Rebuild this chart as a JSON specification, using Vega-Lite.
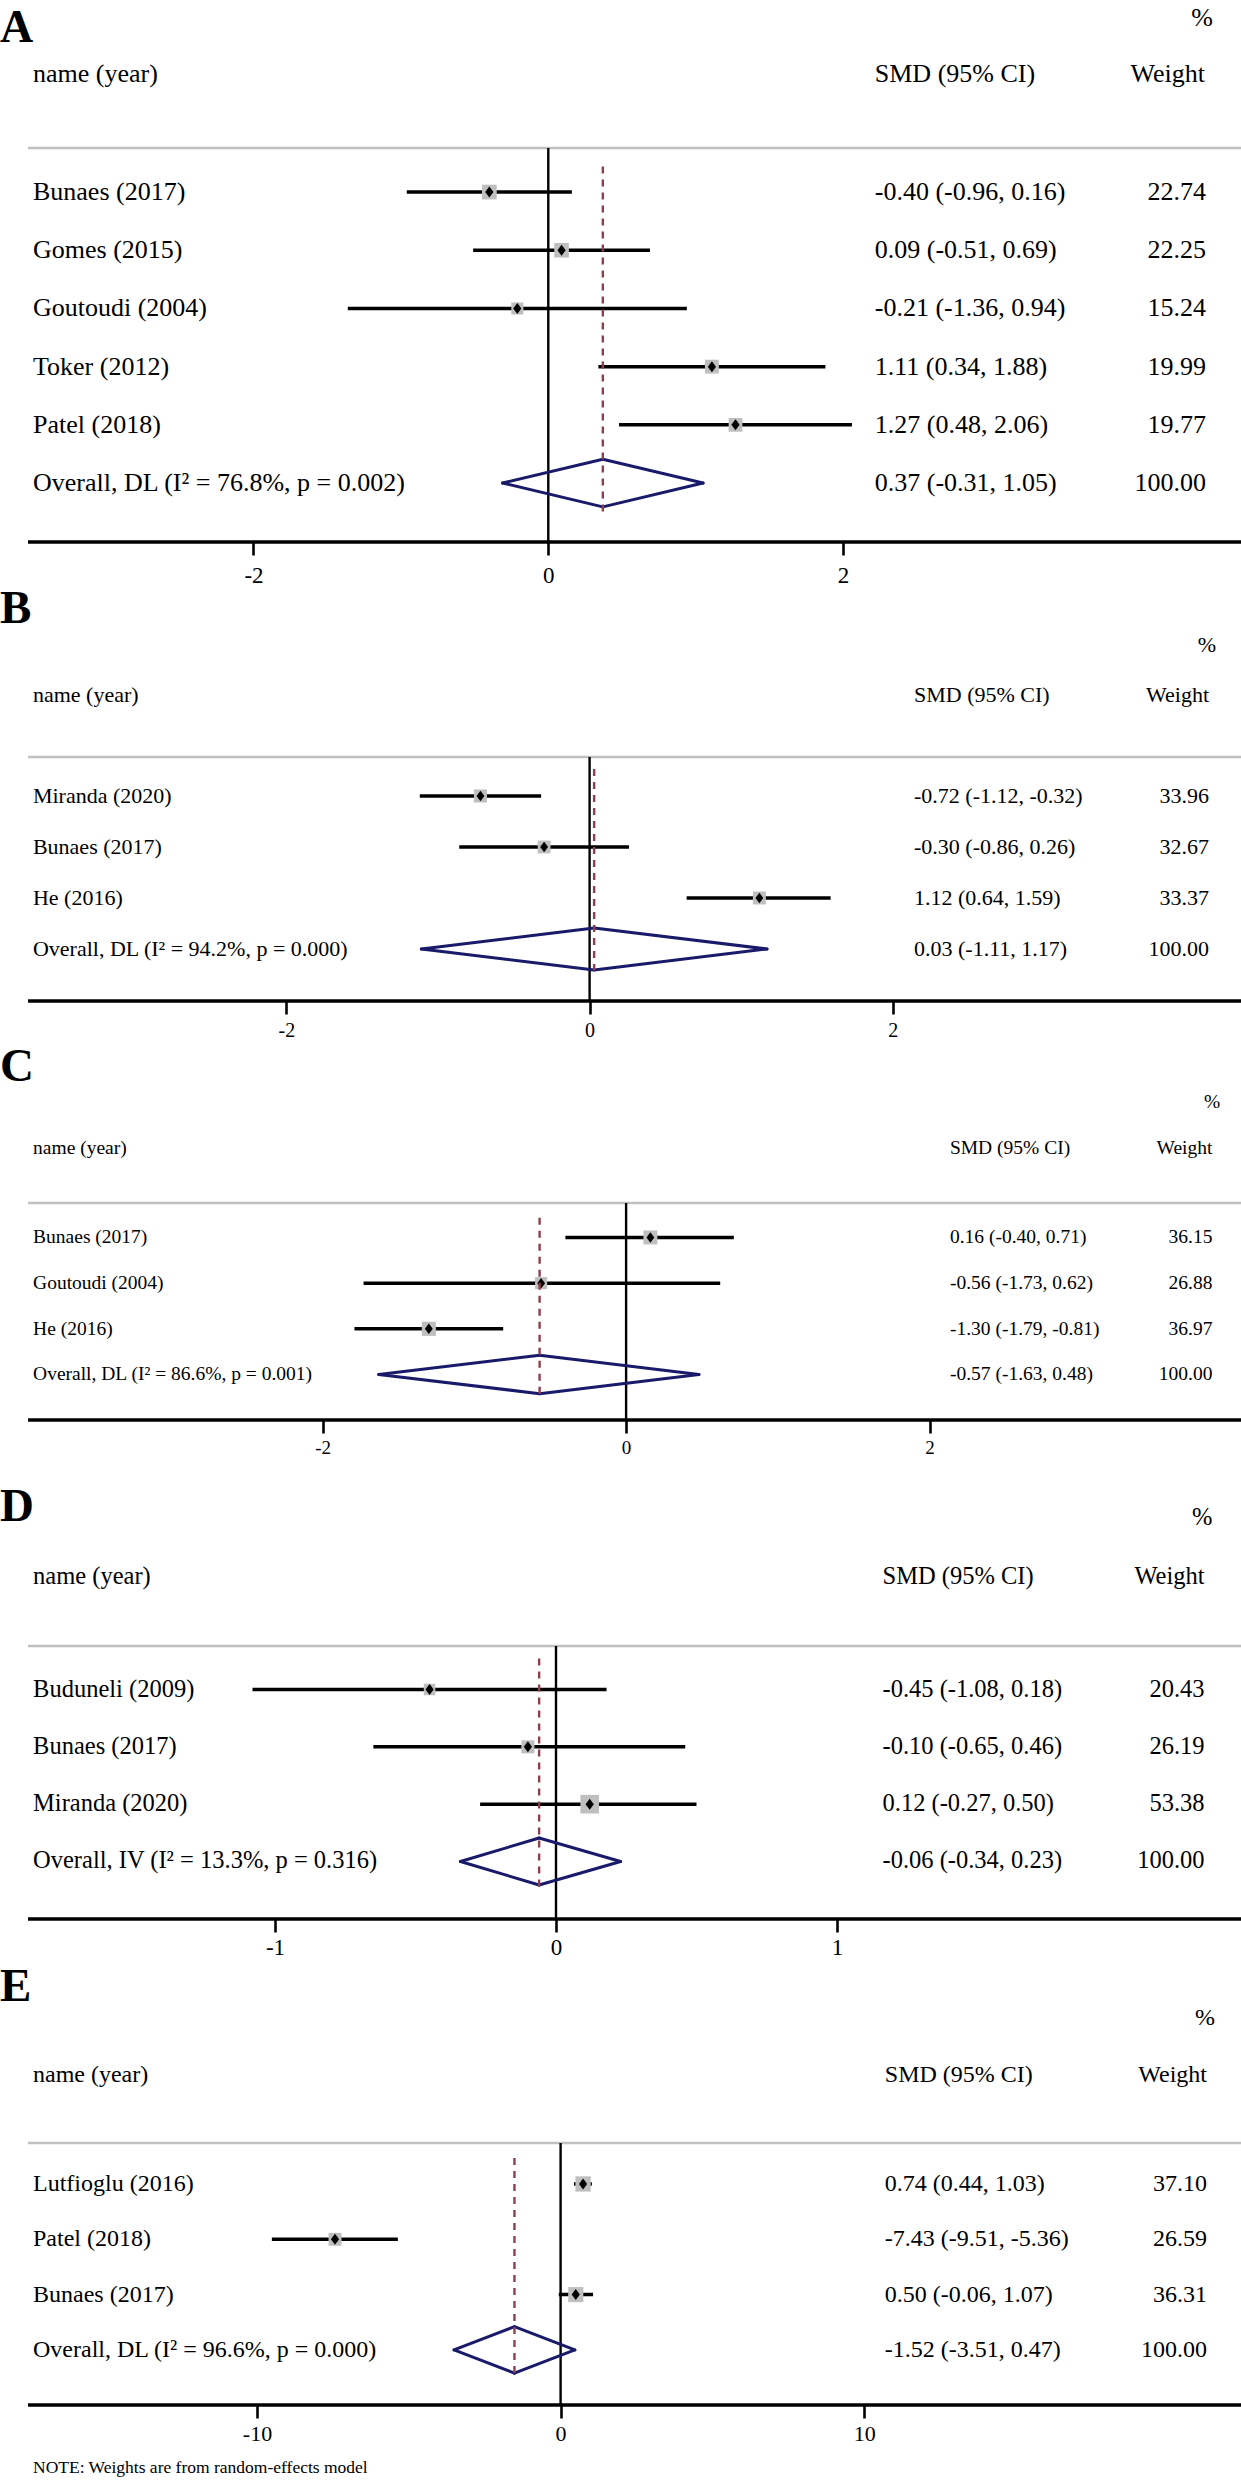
{
  "$schema": "https://vega.github.io/schema/vega-lite/v6.json",
  "padding": 0,
  "background": "white",
  "bounds": "flush",
  "spacing": 0,
  "resolve": {"scale": {"size": "independent"}},
  "config": {
    "view": {"stroke": null},
    "font": "Liberation Serif",
    "axisY": {"disable": true},
    "axis": {"domain": false, "grid": false, "ticks": true, "tickSize": 13, "tickWidth": 2.6, "tickColor": "black", "labelColor": "black", "labelFont": "Liberation Serif", "labelOverlap": false, "labelFlush": false, "labelExpr": "'' + datum.value"}
  },
  "datasets": {
    "forest": [
      {"panel": "A", "r": 1, "kind": "study", "name": "Bunaes (2017)", "smd": -0.40, "lo": -0.96, "hi": 0.16, "ci": "-0.40 (-0.96, 0.16)", "weight": 22.74},
      {"panel": "A", "r": 2, "kind": "study", "name": "Gomes (2015)", "smd": 0.09, "lo": -0.51, "hi": 0.69, "ci": "0.09 (-0.51, 0.69)", "weight": 22.25},
      {"panel": "A", "r": 3, "kind": "study", "name": "Goutoudi (2004)", "smd": -0.21, "lo": -1.36, "hi": 0.94, "ci": "-0.21 (-1.36, 0.94)", "weight": 15.24},
      {"panel": "A", "r": 4, "kind": "study", "name": "Toker (2012)", "smd": 1.11, "lo": 0.34, "hi": 1.88, "ci": "1.11 (0.34, 1.88)", "weight": 19.99},
      {"panel": "A", "r": 5, "kind": "study", "name": "Patel (2018)", "smd": 1.27, "lo": 0.48, "hi": 2.06, "ci": "1.27 (0.48, 2.06)", "weight": 19.77},
      {"panel": "A", "r": 6, "kind": "overall", "name": "Overall, DL (I² = 76.8%, p = 0.002)", "smd": 0.37, "lo": -0.31, "hi": 1.05, "ci": "0.37 (-0.31, 1.05)", "weight": 100},
      {"panel": "B", "r": 1, "kind": "study", "name": "Miranda (2020)", "smd": -0.72, "lo": -1.12, "hi": -0.32, "ci": "-0.72 (-1.12, -0.32)", "weight": 33.96},
      {"panel": "B", "r": 2, "kind": "study", "name": "Bunaes (2017)", "smd": -0.30, "lo": -0.86, "hi": 0.26, "ci": "-0.30 (-0.86, 0.26)", "weight": 32.67},
      {"panel": "B", "r": 3, "kind": "study", "name": "He (2016)", "smd": 1.12, "lo": 0.64, "hi": 1.59, "ci": "1.12 (0.64, 1.59)", "weight": 33.37},
      {"panel": "B", "r": 4, "kind": "overall", "name": "Overall, DL (I² = 94.2%, p = 0.000)", "smd": 0.03, "lo": -1.11, "hi": 1.17, "ci": "0.03 (-1.11, 1.17)", "weight": 100},
      {"panel": "C", "r": 1, "kind": "study", "name": "Bunaes (2017)", "smd": 0.16, "lo": -0.40, "hi": 0.71, "ci": "0.16 (-0.40, 0.71)", "weight": 36.15},
      {"panel": "C", "r": 2, "kind": "study", "name": "Goutoudi (2004)", "smd": -0.56, "lo": -1.73, "hi": 0.62, "ci": "-0.56 (-1.73, 0.62)", "weight": 26.88},
      {"panel": "C", "r": 3, "kind": "study", "name": "He (2016)", "smd": -1.30, "lo": -1.79, "hi": -0.81, "ci": "-1.30 (-1.79, -0.81)", "weight": 36.97},
      {"panel": "C", "r": 4, "kind": "overall", "name": "Overall, DL (I² = 86.6%, p = 0.001)", "smd": -0.57, "lo": -1.63, "hi": 0.48, "ci": "-0.57 (-1.63, 0.48)", "weight": 100},
      {"panel": "D", "r": 1, "kind": "study", "name": "Buduneli (2009)", "smd": -0.45, "lo": -1.08, "hi": 0.18, "ci": "-0.45 (-1.08, 0.18)", "weight": 20.43},
      {"panel": "D", "r": 2, "kind": "study", "name": "Bunaes (2017)", "smd": -0.10, "lo": -0.65, "hi": 0.46, "ci": "-0.10 (-0.65, 0.46)", "weight": 26.19},
      {"panel": "D", "r": 3, "kind": "study", "name": "Miranda (2020)", "smd": 0.12, "lo": -0.27, "hi": 0.50, "ci": "0.12 (-0.27, 0.50)", "weight": 53.38},
      {"panel": "D", "r": 4, "kind": "overall", "name": "Overall, IV (I² = 13.3%, p = 0.316)", "smd": -0.06, "lo": -0.34, "hi": 0.23, "ci": "-0.06 (-0.34, 0.23)", "weight": 100},
      {"panel": "E", "r": 1, "kind": "study", "name": "Lutfioglu (2016)", "smd": 0.74, "lo": 0.44, "hi": 1.03, "ci": "0.74 (0.44, 1.03)", "weight": 37.10},
      {"panel": "E", "r": 2, "kind": "study", "name": "Patel (2018)", "smd": -7.43, "lo": -9.51, "hi": -5.36, "ci": "-7.43 (-9.51, -5.36)", "weight": 26.59},
      {"panel": "E", "r": 3, "kind": "study", "name": "Bunaes (2017)", "smd": 0.50, "lo": -0.06, "hi": 1.07, "ci": "0.50 (-0.06, 1.07)", "weight": 36.31},
      {"panel": "E", "r": 4, "kind": "overall", "name": "Overall, DL (I² = 96.6%, p = 0.000)", "smd": -1.52, "lo": -3.51, "hi": 0.47, "ci": "-1.52 (-3.51, 0.47)", "weight": 100}
    ]
  },
  "vconcat": [
    {
      "width": 1241, "height": 542,
      "data": {"name": "forest"},
      "layer": [
        {"transform": [{"filter": "datum.panel === 'A' && datum.kind === 'study'"}],
         "mark": {"type": "rule", "color": "black", "strokeWidth": 3.5},
         "encoding": {
           "x": {"field": "lo", "type": "quantitative", "scale": {"domain": [-3.7198, 4.6995], "nice": false, "zero": false}, "axis": {"title": null, "values": [-2, 0, 2], "labelFontSize": 23, "labelPadding": 9}},
           "x2": {"field": "hi"},
           "y": {"field": "r", "type": "quantitative", "scale": {"domain": [-2.3, 7.013], "reverse": true, "nice": false, "zero": false}}}},
        {"data": {"values": [{}]}, "mark": {"type": "rule", "color": "#c0c0c0", "strokeWidth": 2.5},
         "encoding": {"x": {"datum": -3.53}, "x2": {"datum": 4.6995}, "y": {"datum": 0.244}}},
        {"data": {"values": [{}]}, "mark": {"type": "rule", "color": "black", "strokeWidth": 3.3},
         "encoding": {"x": {"datum": -3.53}, "x2": {"datum": 4.6995}, "y": {"datum": 7.013}}},
        {"data": {"values": [{}]}, "mark": {"type": "rule", "color": "black", "strokeWidth": 2.4},
         "encoding": {"x": {"datum": 0}, "y": {"datum": 0.244}, "y2": {"datum": 7.013}}},
        {"transform": [{"filter": "datum.panel === 'A' && datum.kind === 'study'"}],
         "mark": {"type": "point", "shape": "square", "filled": true, "color": "#bfbfbf", "opacity": 1},
         "encoding": {"x": {"field": "smd", "type": "quantitative"}, "y": {"field": "r", "type": "quantitative"},
           "size": {"field": "weight", "type": "quantitative", "scale": {"type": "linear", "domain": [0, 100], "range": [0, 960]}, "legend": null}}},
        {"transform": [{"filter": "datum.panel === 'A' && datum.kind === 'study'"}],
         "mark": {"type": "point", "shape": "M0,-1L0.75,0L0,1L-0.75,0Z", "filled": true, "color": "black", "opacity": 1, "size": 121},
         "encoding": {"x": {"field": "smd", "type": "quantitative"}, "y": {"field": "r", "type": "quantitative"}}},
        {"transform": [{"filter": "datum.panel === 'A' && datum.kind === 'overall'"}],
         "mark": {"type": "rule", "color": "#1a1a6b", "strokeWidth": 3, "strokeCap": "round"},
         "encoding": {"x": {"field": "lo", "type": "quantitative"}, "x2": {"field": "smd"}, "y": {"field": "r", "type": "quantitative"}, "y2": {"datum": 5.59}}},
        {"transform": [{"filter": "datum.panel === 'A' && datum.kind === 'overall'"}],
         "mark": {"type": "rule", "color": "#1a1a6b", "strokeWidth": 3, "strokeCap": "round"},
         "encoding": {"x": {"field": "hi", "type": "quantitative"}, "x2": {"field": "smd"}, "y": {"field": "r", "type": "quantitative"}, "y2": {"datum": 5.59}}},
        {"transform": [{"filter": "datum.panel === 'A' && datum.kind === 'overall'"}],
         "mark": {"type": "rule", "color": "#1a1a6b", "strokeWidth": 3, "strokeCap": "round"},
         "encoding": {"x": {"field": "lo", "type": "quantitative"}, "x2": {"field": "smd"}, "y": {"field": "r", "type": "quantitative"}, "y2": {"datum": 6.41}}},
        {"transform": [{"filter": "datum.panel === 'A' && datum.kind === 'overall'"}],
         "mark": {"type": "rule", "color": "#1a1a6b", "strokeWidth": 3, "strokeCap": "round"},
         "encoding": {"x": {"field": "hi", "type": "quantitative"}, "x2": {"field": "smd"}, "y": {"field": "r", "type": "quantitative"}, "y2": {"datum": 6.41}}},
        {"transform": [{"filter": "datum.panel === 'A' && datum.kind === 'overall'"}],
         "mark": {"type": "rule", "color": "#8e3f4e", "strokeWidth": 2.4, "strokeDash": [7, 6]},
         "encoding": {"x": {"field": "smd", "type": "quantitative"}, "y": {"datum": 0.56}, "y2": {"datum": 6.5}}},
        {"transform": [{"filter": "datum.panel === 'A'"}],
         "mark": {"type": "text", "align": "left", "baseline": "middle", "fontSize": 26, "color": "black"},
         "encoding": {"x": {"datum": -3.496}, "y": {"field": "r", "type": "quantitative"}, "text": {"field": "name"}}},
        {"transform": [{"filter": "datum.panel === 'A'"}],
         "mark": {"type": "text", "align": "left", "baseline": "middle", "fontSize": 26, "color": "black"},
         "encoding": {"x": {"datum": 2.215}, "y": {"field": "r", "type": "quantitative"}, "text": {"field": "ci"}}},
        {"transform": [{"filter": "datum.panel === 'A'"}],
         "mark": {"type": "text", "align": "right", "baseline": "middle", "fontSize": 26, "color": "black"},
         "encoding": {"x": {"datum": 4.462}, "y": {"field": "r", "type": "quantitative"}, "text": {"field": "weight", "type": "quantitative", "format": ".2f"}}},
        {"data": {"values": [{}]}, "mark": {"type": "text", "text": "name (year)", "align": "left", "baseline": "middle", "fontSize": 26, "color": "black"},
         "encoding": {"x": {"datum": -3.496}, "y": {"datum": -1.03}}},
        {"data": {"values": [{}]}, "mark": {"type": "text", "text": "SMD (95% CI)", "align": "left", "baseline": "middle", "fontSize": 26, "color": "black"},
         "encoding": {"x": {"datum": 2.215}, "y": {"datum": -1.03}}},
        {"data": {"values": [{}]}, "mark": {"type": "text", "text": "Weight", "align": "right", "baseline": "middle", "fontSize": 26, "color": "black"},
         "encoding": {"x": {"datum": 4.455}, "y": {"datum": -1.03}}},
        {"data": {"values": [{}]}, "mark": {"type": "text", "text": "%", "align": "right", "baseline": "middle", "fontSize": 26, "color": "black"},
         "encoding": {"x": {"datum": 4.509}, "y": {"datum": -1.99}}},
        {"data": {"values": [{}]}, "mark": {"type": "text", "text": "A", "align": "left", "baseline": "alphabetic", "fontSize": 46, "fontWeight": "bold", "color": "black"},
         "encoding": {"x": {"datum": -3.7198}, "y": {"datum": -1.586}}}
      ]
    },
    {
      "width": 1241, "height": 459,
      "data": {"name": "forest"},
      "layer": [
        {"transform": [{"filter": "datum.panel === 'B' && datum.kind === 'study'"}],
         "mark": {"type": "rule", "color": "black", "strokeWidth": 3.5},
         "encoding": {
           "x": {"field": "lo", "type": "quantitative", "scale": {"domain": [-3.8892, 4.2968], "nice": false, "zero": false}, "axis": {"title": null, "values": [-2, 0, 2], "labelFontSize": 20, "labelPadding": 6}},
           "x2": {"field": "hi"},
           "y": {"field": "r", "type": "quantitative", "scale": {"domain": [-3.98, 5.02], "reverse": true, "nice": false, "zero": false}}}},
        {"data": {"values": [{}]}, "mark": {"type": "rule", "color": "#c0c0c0", "strokeWidth": 2.5},
         "encoding": {"x": {"datum": -3.704}, "x2": {"datum": 4.2968}, "y": {"datum": 0.235}}},
        {"data": {"values": [{}]}, "mark": {"type": "rule", "color": "black", "strokeWidth": 3.3},
         "encoding": {"x": {"datum": -3.704}, "x2": {"datum": 4.2968}, "y": {"datum": 5.02}}},
        {"data": {"values": [{}]}, "mark": {"type": "rule", "color": "black", "strokeWidth": 2.4},
         "encoding": {"x": {"datum": 0}, "y": {"datum": 0.235}, "y2": {"datum": 5.02}}},
        {"transform": [{"filter": "datum.panel === 'B' && datum.kind === 'study'"}],
         "mark": {"type": "point", "shape": "square", "filled": true, "color": "#bfbfbf", "opacity": 1},
         "encoding": {"x": {"field": "smd", "type": "quantitative"}, "y": {"field": "r", "type": "quantitative"},
           "size": {"field": "weight", "type": "quantitative", "scale": {"type": "linear", "domain": [0, 100], "range": [0, 500]}, "legend": null}}},
        {"transform": [{"filter": "datum.panel === 'B' && datum.kind === 'study'"}],
         "mark": {"type": "point", "shape": "M0,-1L0.75,0L0,1L-0.75,0Z", "filled": true, "color": "black", "opacity": 1, "size": 110},
         "encoding": {"x": {"field": "smd", "type": "quantitative"}, "y": {"field": "r", "type": "quantitative"}}},
        {"transform": [{"filter": "datum.panel === 'B' && datum.kind === 'overall'"}],
         "mark": {"type": "rule", "color": "#1a1a6b", "strokeWidth": 3, "strokeCap": "round"},
         "encoding": {"x": {"field": "lo", "type": "quantitative"}, "x2": {"field": "smd"}, "y": {"field": "r", "type": "quantitative"}, "y2": {"datum": 3.59}}},
        {"transform": [{"filter": "datum.panel === 'B' && datum.kind === 'overall'"}],
         "mark": {"type": "rule", "color": "#1a1a6b", "strokeWidth": 3, "strokeCap": "round"},
         "encoding": {"x": {"field": "hi", "type": "quantitative"}, "x2": {"field": "smd"}, "y": {"field": "r", "type": "quantitative"}, "y2": {"datum": 3.59}}},
        {"transform": [{"filter": "datum.panel === 'B' && datum.kind === 'overall'"}],
         "mark": {"type": "rule", "color": "#1a1a6b", "strokeWidth": 3, "strokeCap": "round"},
         "encoding": {"x": {"field": "lo", "type": "quantitative"}, "x2": {"field": "smd"}, "y": {"field": "r", "type": "quantitative"}, "y2": {"datum": 4.41}}},
        {"transform": [{"filter": "datum.panel === 'B' && datum.kind === 'overall'"}],
         "mark": {"type": "rule", "color": "#1a1a6b", "strokeWidth": 3, "strokeCap": "round"},
         "encoding": {"x": {"field": "hi", "type": "quantitative"}, "x2": {"field": "smd"}, "y": {"field": "r", "type": "quantitative"}, "y2": {"datum": 4.41}}},
        {"transform": [{"filter": "datum.panel === 'B' && datum.kind === 'overall'"}],
         "mark": {"type": "rule", "color": "#8e3f4e", "strokeWidth": 2.4, "strokeDash": [7, 6]},
         "encoding": {"x": {"field": "smd", "type": "quantitative"}, "y": {"datum": 0.47}, "y2": {"datum": 4.42}}},
        {"transform": [{"filter": "datum.panel === 'B'"}],
         "mark": {"type": "text", "align": "left", "baseline": "middle", "fontSize": 22, "color": "black"},
         "encoding": {"x": {"datum": -3.672}, "y": {"field": "r", "type": "quantitative"}, "text": {"field": "name"}}},
        {"transform": [{"filter": "datum.panel === 'B'"}],
         "mark": {"type": "text", "align": "left", "baseline": "middle", "fontSize": 22, "color": "black"},
         "encoding": {"x": {"datum": 2.140}, "y": {"field": "r", "type": "quantitative"}, "text": {"field": "ci"}}},
        {"transform": [{"filter": "datum.panel === 'B'"}],
         "mark": {"type": "text", "align": "right", "baseline": "middle", "fontSize": 22, "color": "black"},
         "encoding": {"x": {"datum": 4.086}, "y": {"field": "r", "type": "quantitative"}, "text": {"field": "weight", "type": "quantitative", "format": ".2f"}}},
        {"data": {"values": [{}]}, "mark": {"type": "text", "text": "name (year)", "align": "left", "baseline": "middle", "fontSize": 22, "color": "black"},
         "encoding": {"x": {"datum": -3.672}, "y": {"datum": -0.98}}},
        {"data": {"values": [{}]}, "mark": {"type": "text", "text": "SMD (95% CI)", "align": "left", "baseline": "middle", "fontSize": 22, "color": "black"},
         "encoding": {"x": {"datum": 2.140}, "y": {"datum": -0.98}}},
        {"data": {"values": [{}]}, "mark": {"type": "text", "text": "Weight", "align": "right", "baseline": "middle", "fontSize": 22, "color": "black"},
         "encoding": {"x": {"datum": 4.086}, "y": {"datum": -0.98}}},
        {"data": {"values": [{}]}, "mark": {"type": "text", "text": "%", "align": "right", "baseline": "middle", "fontSize": 22, "color": "black"},
         "encoding": {"x": {"datum": 4.132}, "y": {"datum": -1.96}}},
        {"data": {"values": [{}]}, "mark": {"type": "text", "text": "B", "align": "left", "baseline": "alphabetic", "fontSize": 47, "fontWeight": "bold", "color": "black"},
         "encoding": {"x": {"datum": -3.8892}, "y": {"datum": -2.392}}}
      ]
    },
    {
      "width": 1241, "height": 419,
      "data": {"name": "forest"},
      "layer": [
        {"transform": [{"filter": "datum.panel === 'C' && datum.kind === 'study'"}],
         "mark": {"type": "rule", "color": "black", "strokeWidth": 3.5},
         "encoding": {
           "x": {"field": "lo", "type": "quantitative", "scale": {"domain": [-4.1259, 4.0521], "nice": false, "zero": false}, "axis": {"title": null, "values": [-2, 0, 2], "labelFontSize": 19, "labelPadding": 5}},
           "x2": {"field": "hi"},
           "y": {"field": "r", "type": "quantitative", "scale": {"domain": [-4.178, 4.997], "reverse": true, "nice": false, "zero": false}}}},
        {"data": {"values": [{}]}, "mark": {"type": "rule", "color": "#c0c0c0", "strokeWidth": 2.5},
         "encoding": {"x": {"datum": -3.941}, "x2": {"datum": 4.0521}, "y": {"datum": 0.245}}},
        {"data": {"values": [{}]}, "mark": {"type": "rule", "color": "black", "strokeWidth": 3.3},
         "encoding": {"x": {"datum": -3.941}, "x2": {"datum": 4.0521}, "y": {"datum": 4.997}}},
        {"data": {"values": [{}]}, "mark": {"type": "rule", "color": "black", "strokeWidth": 2.4},
         "encoding": {"x": {"datum": 0}, "y": {"datum": 0.245}, "y2": {"datum": 4.997}}},
        {"transform": [{"filter": "datum.panel === 'C' && datum.kind === 'study'"}],
         "mark": {"type": "point", "shape": "square", "filled": true, "color": "#bfbfbf", "opacity": 1},
         "encoding": {"x": {"field": "smd", "type": "quantitative"}, "y": {"field": "r", "type": "quantitative"},
           "size": {"field": "weight", "type": "quantitative", "scale": {"type": "linear", "domain": [0, 100], "range": [0, 540]}, "legend": null}}},
        {"transform": [{"filter": "datum.panel === 'C' && datum.kind === 'study'"}],
         "mark": {"type": "point", "shape": "M0,-1L0.75,0L0,1L-0.75,0Z", "filled": true, "color": "black", "opacity": 1, "size": 110},
         "encoding": {"x": {"field": "smd", "type": "quantitative"}, "y": {"field": "r", "type": "quantitative"}}},
        {"transform": [{"filter": "datum.panel === 'C' && datum.kind === 'overall'"}],
         "mark": {"type": "rule", "color": "#1a1a6b", "strokeWidth": 3, "strokeCap": "round"},
         "encoding": {"x": {"field": "lo", "type": "quantitative"}, "x2": {"field": "smd"}, "y": {"field": "r", "type": "quantitative"}, "y2": {"datum": 3.58}}},
        {"transform": [{"filter": "datum.panel === 'C' && datum.kind === 'overall'"}],
         "mark": {"type": "rule", "color": "#1a1a6b", "strokeWidth": 3, "strokeCap": "round"},
         "encoding": {"x": {"field": "hi", "type": "quantitative"}, "x2": {"field": "smd"}, "y": {"field": "r", "type": "quantitative"}, "y2": {"datum": 3.58}}},
        {"transform": [{"filter": "datum.panel === 'C' && datum.kind === 'overall'"}],
         "mark": {"type": "rule", "color": "#1a1a6b", "strokeWidth": 3, "strokeCap": "round"},
         "encoding": {"x": {"field": "lo", "type": "quantitative"}, "x2": {"field": "smd"}, "y": {"field": "r", "type": "quantitative"}, "y2": {"datum": 4.42}}},
        {"transform": [{"filter": "datum.panel === 'C' && datum.kind === 'overall'"}],
         "mark": {"type": "rule", "color": "#1a1a6b", "strokeWidth": 3, "strokeCap": "round"},
         "encoding": {"x": {"field": "hi", "type": "quantitative"}, "x2": {"field": "smd"}, "y": {"field": "r", "type": "quantitative"}, "y2": {"datum": 4.42}}},
        {"transform": [{"filter": "datum.panel === 'C' && datum.kind === 'overall'"}],
         "mark": {"type": "rule", "color": "#8e3f4e", "strokeWidth": 2.4, "strokeDash": [7, 6]},
         "encoding": {"x": {"field": "smd", "type": "quantitative"}, "y": {"datum": 0.57}, "y2": {"datum": 4.48}}},
        {"transform": [{"filter": "datum.panel === 'C'"}],
         "mark": {"type": "text", "align": "left", "baseline": "middle", "fontSize": 19.5, "color": "black"},
         "encoding": {"x": {"datum": -3.908}, "y": {"field": "r", "type": "quantitative"}, "text": {"field": "name"}}},
        {"transform": [{"filter": "datum.panel === 'C'"}],
         "mark": {"type": "text", "align": "left", "baseline": "middle", "fontSize": 19.5, "color": "black"},
         "encoding": {"x": {"datum": 2.134}, "y": {"field": "r", "type": "quantitative"}, "text": {"field": "ci"}}},
        {"transform": [{"filter": "datum.panel === 'C'"}],
         "mark": {"type": "text", "align": "right", "baseline": "middle", "fontSize": 19.5, "color": "black"},
         "encoding": {"x": {"datum": 3.864}, "y": {"field": "r", "type": "quantitative"}, "text": {"field": "weight", "type": "quantitative", "format": ".2f"}}},
        {"data": {"values": [{}]}, "mark": {"type": "text", "text": "name (year)", "align": "left", "baseline": "middle", "fontSize": 19.5, "color": "black"},
         "encoding": {"x": {"datum": -3.908}, "y": {"datum": -0.96}}},
        {"data": {"values": [{}]}, "mark": {"type": "text", "text": "SMD (95% CI)", "align": "left", "baseline": "middle", "fontSize": 19.5, "color": "black"},
         "encoding": {"x": {"datum": 2.134}, "y": {"datum": -0.96}}},
        {"data": {"values": [{}]}, "mark": {"type": "text", "text": "Weight", "align": "right", "baseline": "middle", "fontSize": 19.5, "color": "black"},
         "encoding": {"x": {"datum": 3.864}, "y": {"datum": -0.96}}},
        {"data": {"values": [{}]}, "mark": {"type": "text", "text": "%", "align": "right", "baseline": "middle", "fontSize": 19.5, "color": "black"},
         "encoding": {"x": {"datum": 3.916}, "y": {"datum": -1.97}}},
        {"data": {"values": [{}]}, "mark": {"type": "text", "text": "C", "align": "left", "baseline": "alphabetic", "fontSize": 47, "fontWeight": "bold", "color": "black"},
         "encoding": {"x": {"datum": -4.1259}, "y": {"datum": -2.427}}}
      ]
    },
    {
      "width": 1241, "height": 499,
      "data": {"name": "forest"},
      "layer": [
        {"transform": [{"filter": "datum.panel === 'D' && datum.kind === 'study'"}],
         "mark": {"type": "rule", "color": "black", "strokeWidth": 3.5},
         "encoding": {
           "x": {"field": "lo", "type": "quantitative", "scale": {"domain": [-1.9786, 2.4377], "nice": false, "zero": false}, "axis": {"title": null, "values": [-1, 0, 1], "labelFontSize": 23, "labelPadding": 4}},
           "x2": {"field": "hi"},
           "y": {"field": "r", "type": "quantitative", "scale": {"domain": [-3.701, 5.003], "reverse": true, "nice": false, "zero": false}}}},
        {"data": {"values": [{}]}, "mark": {"type": "rule", "color": "#c0c0c0", "strokeWidth": 2.5},
         "encoding": {"x": {"datum": -1.879}, "x2": {"datum": 2.4377}, "y": {"datum": 0.24}}},
        {"data": {"values": [{}]}, "mark": {"type": "rule", "color": "black", "strokeWidth": 3.3},
         "encoding": {"x": {"datum": -1.879}, "x2": {"datum": 2.4377}, "y": {"datum": 5.003}}},
        {"data": {"values": [{}]}, "mark": {"type": "rule", "color": "black", "strokeWidth": 2.4},
         "encoding": {"x": {"datum": 0}, "y": {"datum": 0.24}, "y2": {"datum": 5.003}}},
        {"transform": [{"filter": "datum.panel === 'D' && datum.kind === 'study'"}],
         "mark": {"type": "point", "shape": "square", "filled": true, "color": "#bfbfbf", "opacity": 1},
         "encoding": {"x": {"field": "smd", "type": "quantitative"}, "y": {"field": "r", "type": "quantitative"},
           "size": {"field": "weight", "type": "quantitative", "scale": {"type": "linear", "domain": [0, 100], "range": [0, 650]}, "legend": null}}},
        {"transform": [{"filter": "datum.panel === 'D' && datum.kind === 'study'"}],
         "mark": {"type": "point", "shape": "M0,-1L0.75,0L0,1L-0.75,0Z", "filled": true, "color": "black", "opacity": 1, "size": 121},
         "encoding": {"x": {"field": "smd", "type": "quantitative"}, "y": {"field": "r", "type": "quantitative"}}},
        {"transform": [{"filter": "datum.panel === 'D' && datum.kind === 'overall'"}],
         "mark": {"type": "rule", "color": "#1a1a6b", "strokeWidth": 3, "strokeCap": "round"},
         "encoding": {"x": {"field": "lo", "type": "quantitative"}, "x2": {"field": "smd"}, "y": {"field": "r", "type": "quantitative"}, "y2": {"datum": 3.59}}},
        {"transform": [{"filter": "datum.panel === 'D' && datum.kind === 'overall'"}],
         "mark": {"type": "rule", "color": "#1a1a6b", "strokeWidth": 3, "strokeCap": "round"},
         "encoding": {"x": {"field": "hi", "type": "quantitative"}, "x2": {"field": "smd"}, "y": {"field": "r", "type": "quantitative"}, "y2": {"datum": 3.59}}},
        {"transform": [{"filter": "datum.panel === 'D' && datum.kind === 'overall'"}],
         "mark": {"type": "rule", "color": "#1a1a6b", "strokeWidth": 3, "strokeCap": "round"},
         "encoding": {"x": {"field": "lo", "type": "quantitative"}, "x2": {"field": "smd"}, "y": {"field": "r", "type": "quantitative"}, "y2": {"datum": 4.41}}},
        {"transform": [{"filter": "datum.panel === 'D' && datum.kind === 'overall'"}],
         "mark": {"type": "rule", "color": "#1a1a6b", "strokeWidth": 3, "strokeCap": "round"},
         "encoding": {"x": {"field": "hi", "type": "quantitative"}, "x2": {"field": "smd"}, "y": {"field": "r", "type": "quantitative"}, "y2": {"datum": 4.41}}},
        {"transform": [{"filter": "datum.panel === 'D' && datum.kind === 'overall'"}],
         "mark": {"type": "rule", "color": "#8e3f4e", "strokeWidth": 2.4, "strokeDash": [7, 6]},
         "encoding": {"x": {"field": "smd", "type": "quantitative"}, "y": {"datum": 0.46}, "y2": {"datum": 4.5}}},
        {"transform": [{"filter": "datum.panel === 'D'"}],
         "mark": {"type": "text", "align": "left", "baseline": "middle", "fontSize": 24.5, "color": "black"},
         "encoding": {"x": {"datum": -1.861}, "y": {"field": "r", "type": "quantitative"}, "text": {"field": "name"}}},
        {"transform": [{"filter": "datum.panel === 'D'"}],
         "mark": {"type": "text", "align": "left", "baseline": "middle", "fontSize": 24.5, "color": "black"},
         "encoding": {"x": {"datum": 1.162}, "y": {"field": "r", "type": "quantitative"}, "text": {"field": "ci"}}},
        {"transform": [{"filter": "datum.panel === 'D'"}],
         "mark": {"type": "text", "align": "right", "baseline": "middle", "fontSize": 24.5, "color": "black"},
         "encoding": {"x": {"datum": 2.308}, "y": {"field": "r", "type": "quantitative"}, "text": {"field": "weight", "type": "quantitative", "format": ".2f"}}},
        {"data": {"values": [{}]}, "mark": {"type": "text", "text": "name (year)", "align": "left", "baseline": "middle", "fontSize": 24.5, "color": "black"},
         "encoding": {"x": {"datum": -1.861}, "y": {"datum": -0.96}}},
        {"data": {"values": [{}]}, "mark": {"type": "text", "text": "SMD (95% CI)", "align": "left", "baseline": "middle", "fontSize": 24.5, "color": "black"},
         "encoding": {"x": {"datum": 1.162}, "y": {"datum": -0.96}}},
        {"data": {"values": [{}]}, "mark": {"type": "text", "text": "Weight", "align": "right", "baseline": "middle", "fontSize": 24.5, "color": "black"},
         "encoding": {"x": {"datum": 2.308}, "y": {"datum": -0.96}}},
        {"data": {"values": [{}]}, "mark": {"type": "text", "text": "%", "align": "right", "baseline": "middle", "fontSize": 24.5, "color": "black"},
         "encoding": {"x": {"datum": 2.336}, "y": {"datum": -1.99}}},
        {"data": {"values": [{}]}, "mark": {"type": "text", "text": "D", "align": "left", "baseline": "alphabetic", "fontSize": 47, "fontWeight": "bold", "color": "black"},
         "encoding": {"x": {"datum": -1.9786}, "y": {"datum": -1.939}}}
      ]
    },
    {
      "width": 1241, "height": 486,
      "data": {"name": "forest"},
      "layer": [
        {"transform": [{"filter": "datum.panel === 'E' && datum.kind === 'study'"}],
         "mark": {"type": "rule", "color": "black", "strokeWidth": 3.5},
         "encoding": {
           "x": {"field": "lo", "type": "quantitative", "scale": {"domain": [-18.465, 22.411], "nice": false, "zero": false}, "axis": {"title": null, "values": [-10, 0, 10], "labelFontSize": 22, "labelPadding": 5}},
           "x2": {"field": "hi"},
           "y": {"field": "r", "type": "quantitative", "scale": {"domain": [-3.789, 4.995], "reverse": true, "nice": false, "zero": false}}}},
        {"data": {"values": [{}]}, "mark": {"type": "rule", "color": "#c0c0c0", "strokeWidth": 2.5},
         "encoding": {"x": {"datum": -17.543}, "x2": {"datum": 22.411}, "y": {"datum": 0.26}}},
        {"data": {"values": [{}]}, "mark": {"type": "rule", "color": "black", "strokeWidth": 3.3},
         "encoding": {"x": {"datum": -17.543}, "x2": {"datum": 22.411}, "y": {"datum": 4.995}}},
        {"data": {"values": [{}]}, "mark": {"type": "rule", "color": "black", "strokeWidth": 2.4},
         "encoding": {"x": {"datum": 0}, "y": {"datum": 0.26}, "y2": {"datum": 4.995}}},
        {"transform": [{"filter": "datum.panel === 'E' && datum.kind === 'study'"}],
         "mark": {"type": "point", "shape": "square", "filled": true, "color": "#bfbfbf", "opacity": 1},
         "encoding": {"x": {"field": "smd", "type": "quantitative"}, "y": {"field": "r", "type": "quantitative"},
           "size": {"field": "weight", "type": "quantitative", "scale": {"type": "linear", "domain": [0, 100], "range": [0, 630]}, "legend": null}}},
        {"transform": [{"filter": "datum.panel === 'E' && datum.kind === 'study'"}],
         "mark": {"type": "point", "shape": "M0,-1L0.75,0L0,1L-0.75,0Z", "filled": true, "color": "black", "opacity": 1, "size": 121},
         "encoding": {"x": {"field": "smd", "type": "quantitative"}, "y": {"field": "r", "type": "quantitative"}}},
        {"transform": [{"filter": "datum.panel === 'E' && datum.kind === 'overall'"}],
         "mark": {"type": "rule", "color": "#1a1a6b", "strokeWidth": 3, "strokeCap": "round"},
         "encoding": {"x": {"field": "lo", "type": "quantitative"}, "x2": {"field": "smd"}, "y": {"field": "r", "type": "quantitative"}, "y2": {"datum": 3.58}}},
        {"transform": [{"filter": "datum.panel === 'E' && datum.kind === 'overall'"}],
         "mark": {"type": "rule", "color": "#1a1a6b", "strokeWidth": 3, "strokeCap": "round"},
         "encoding": {"x": {"field": "hi", "type": "quantitative"}, "x2": {"field": "smd"}, "y": {"field": "r", "type": "quantitative"}, "y2": {"datum": 3.58}}},
        {"transform": [{"filter": "datum.panel === 'E' && datum.kind === 'overall'"}],
         "mark": {"type": "rule", "color": "#1a1a6b", "strokeWidth": 3, "strokeCap": "round"},
         "encoding": {"x": {"field": "lo", "type": "quantitative"}, "x2": {"field": "smd"}, "y": {"field": "r", "type": "quantitative"}, "y2": {"datum": 4.42}}},
        {"transform": [{"filter": "datum.panel === 'E' && datum.kind === 'overall'"}],
         "mark": {"type": "rule", "color": "#1a1a6b", "strokeWidth": 3, "strokeCap": "round"},
         "encoding": {"x": {"field": "hi", "type": "quantitative"}, "x2": {"field": "smd"}, "y": {"field": "r", "type": "quantitative"}, "y2": {"datum": 4.42}}},
        {"transform": [{"filter": "datum.panel === 'E' && datum.kind === 'overall'"}],
         "mark": {"type": "rule", "color": "#8e3f4e", "strokeWidth": 2.4, "strokeDash": [7, 6]},
         "encoding": {"x": {"field": "smd", "type": "quantitative"}, "y": {"datum": 0.53}, "y2": {"datum": 4.46}}},
        {"transform": [{"filter": "datum.panel === 'E'"}],
         "mark": {"type": "text", "align": "left", "baseline": "middle", "fontSize": 24, "color": "black"},
         "encoding": {"x": {"datum": -17.378}, "y": {"field": "r", "type": "quantitative"}, "text": {"field": "name"}}},
        {"transform": [{"filter": "datum.panel === 'E'"}],
         "mark": {"type": "text", "align": "left", "baseline": "middle", "fontSize": 24, "color": "black"},
         "encoding": {"x": {"datum": 10.679}, "y": {"field": "r", "type": "quantitative"}, "text": {"field": "ci"}}},
        {"transform": [{"filter": "datum.panel === 'E'"}],
         "mark": {"type": "text", "align": "right", "baseline": "middle", "fontSize": 24, "color": "black"},
         "encoding": {"x": {"datum": 21.291}, "y": {"field": "r", "type": "quantitative"}, "text": {"field": "weight", "type": "quantitative", "format": ".2f"}}},
        {"data": {"values": [{}]}, "mark": {"type": "text", "text": "name (year)", "align": "left", "baseline": "middle", "fontSize": 24, "color": "black"},
         "encoding": {"x": {"datum": -17.378}, "y": {"datum": -0.97}}},
        {"data": {"values": [{}]}, "mark": {"type": "text", "text": "SMD (95% CI)", "align": "left", "baseline": "middle", "fontSize": 24, "color": "black"},
         "encoding": {"x": {"datum": 10.679}, "y": {"datum": -0.97}}},
        {"data": {"values": [{}]}, "mark": {"type": "text", "text": "Weight", "align": "right", "baseline": "middle", "fontSize": 24, "color": "black"},
         "encoding": {"x": {"datum": 21.291}, "y": {"datum": -0.97}}},
        {"data": {"values": [{}]}, "mark": {"type": "text", "text": "%", "align": "right", "baseline": "middle", "fontSize": 24, "color": "black"},
         "encoding": {"x": {"datum": 21.555}, "y": {"datum": -2.0}}},
        {"data": {"values": [{}]}, "mark": {"type": "text", "text": "E", "align": "left", "baseline": "alphabetic", "fontSize": 47, "fontWeight": "bold", "color": "black"},
         "encoding": {"x": {"datum": -18.465}, "y": {"datum": -2.307}}},
        {"data": {"values": [{}]}, "mark": {"type": "text", "text": "NOTE: Weights are from random-effects model", "align": "left", "baseline": "middle", "fontSize": 17.5, "color": "black"},
         "encoding": {"x": {"datum": -17.378}, "y": {"datum": 6.13}}}
      ]
    }
  ]
}
